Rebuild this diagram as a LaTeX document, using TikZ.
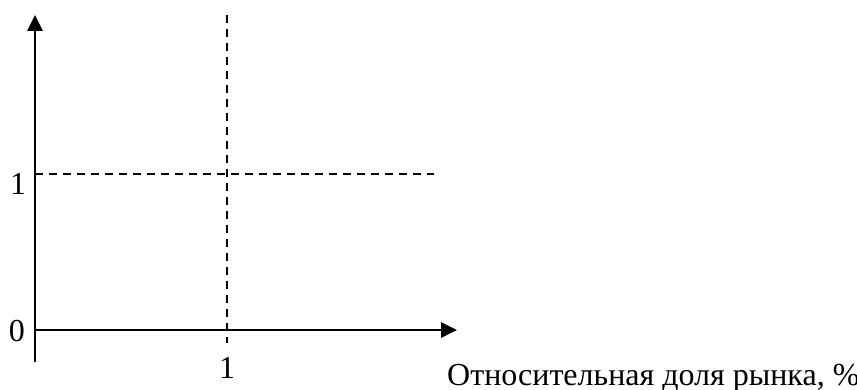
\documentclass[tikz,border=0pt]{standalone}
\usepackage{fontspec}
\setmainfont{Liberation Serif}
\usetikzlibrary{arrows.meta}
\begin{document}
\begin{tikzpicture}[x=1pt,y=-1pt,
  axis/.style={line width=2.7pt,-{Triangle[length=16pt,width=15pt]}},
  axisplain/.style={line width=2.7pt},
  guide/.style={line width=1.6pt,dash pattern=on 8pt off 6pt},
  lbl/.style={inner sep=0pt,font=\fontsize{32}{38}\selectfont}]
\useasboundingbox (0,0) rectangle (857,390);
\coordinate (ybot) at (35,362);
\coordinate (ytop) at (35,15);
\coordinate (xleft) at (35,330);
\coordinate (xright) at (457,330);
\coordinate (vtop) at (227,15);
\coordinate (vbot) at (227,343);
\coordinate (hleft) at (35,174);
\coordinate (hright) at (434,174);
\draw[guide] (vtop) -- (vbot);
\draw[guide] (hleft) -- (hright);
\draw[axis] (ybot) -- (ytop);
\draw[axis] (xleft) -- (xright);
\node[lbl] (one) at (18,184) {1};
\node[lbl] (zero) at (17,331) {0};
\node[lbl] (onex) at (227,368) {1};
\node[lbl,anchor=base west] (title) at (447,385) {Относительная доля рынка, \%};
\end{tikzpicture}
\end{document}
